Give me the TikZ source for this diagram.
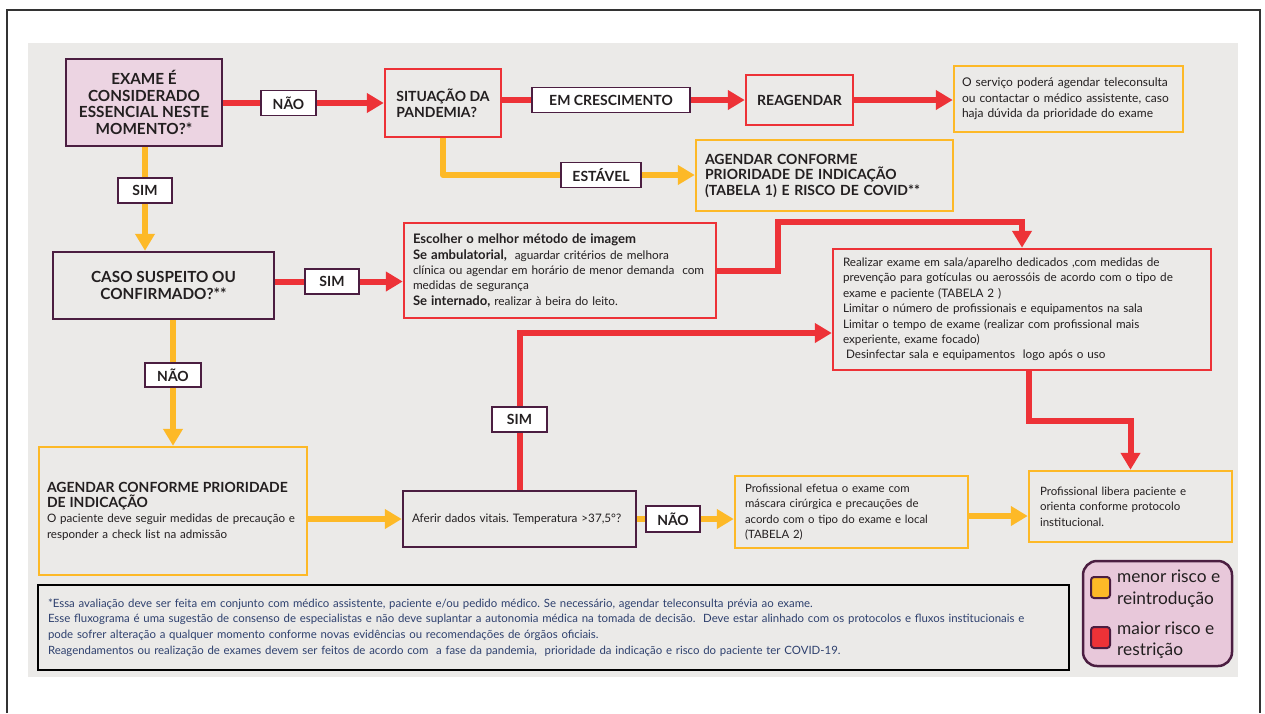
\documentclass[tikz,border=0pt]{standalone}
\usepackage{fontspec}
\setmainfont{Lato}
\usetikzlibrary{arrows.meta,calc}
\definecolor{cred}{RGB}{237,50,55}
\definecolor{cyel}{RGB}{253,185,39}
\definecolor{cpur}{RGB}{75,30,65}
\definecolor{cpink}{RGB}{236,212,226}
\definecolor{clegend}{RGB}{232,200,218}
\definecolor{cbg}{RGB}{235,234,232}
\definecolor{ctext}{RGB}{35,31,32}
\definecolor{cnote}{RGB}{46,64,110}
\newcommand{\myhf}{\fontsize{14}{16}\selectfont\bfseries}
\newcommand{\mybf}{\fontsize{15.3}{16.6}\selectfont\bfseries}
\newcommand{\mylf}{\fontsize{14}{15}\selectfont\bfseries}
\newcommand{\mynf}{\fontsize{11.4}{15.6}\selectfont}
\newcommand{\fs}[1]{\fontsize{#1}{15.4}\selectfont}
\frenchspacing
\begin{document}
\begin{tikzpicture}[x=1pt,y=-1pt,
  box/.style={draw, line width=2.5pt, inner sep=0pt, text=ctext},
  rbox/.style={box, draw=cred},
  ybox/.style={box, draw=cyel},
  pbox/.style={box, draw=cpur},
  lbl/.style={draw=cpur, fill=white, line width=1.5pt, font=\mylf, inner sep=0pt, text=ctext},
  rline/.style={draw=cred, line width=6pt},
  yline/.style={draw=cyel, line width=6pt},
  rarr/.style={rline, -{Triangle[width=19pt,length=17pt]}},
  yarr/.style={yline, -{Triangle[width=19pt,length=17pt]}},
  txt/.style={align=left}
]
\useasboundingbox (0,0) rectangle (1265,713);
\fill[white] (0,0) rectangle (1265,713);
\draw[line width=1.3pt, draw=black!80] (7,713) -- (7,10) -- (1260,10) -- (1260,713);
\fill[cbg] (28,43) rectangle (1238,677);

% nodes
\node[pbox, fill=cpink, minimum width=156, minimum height=87, font=\mybf, align=center] (exame) at (144,102.5)
  {EXAME É\\CONSIDERADO\\ESSENCIAL NESTE\\MOMENTO?*};
\node[lbl, minimum width=55, minimum height=25] (nao1) at (288.5,103) {NÃO};
\node[rbox, minimum width=116, minimum height=68, font=\myhf, align=left] (situacao) at (443,103)
  {SITUAÇÃO DA\\PANDEMIA?};
\node[lbl, minimum width=158, minimum height=25] (emc) at (611,100) {EM CRESCIMENTO};
\node[rbox, minimum width=107, minimum height=50, font=\myhf] (reagendar) at (799.5,100) {REAGENDAR};
\node[ybox, minimum width=229, minimum height=66, txt, font=\fs{12}, text width=213, inner xsep=8] (tele) at (1068.5,99)
  {O serviço poderá agendar teleconsulta\\ou contactar o médico assistente, caso\\haja dúvida da prioridade do exame};
\node[ybox, minimum width=257, minimum height=71, font=\fontsize{14}{15.5}\selectfont\bfseries, align=left, text width=239, inner xsep=9] (agendar1) at (824.5,175.5)
  {AGENDAR CONFORME\\PRIORIDADE DE INDICAÇÃO\\(TABELA 1) E RISCO DE COVID**};
\node[lbl, minimum width=80, minimum height=25] (estavel) at (601,175) {ESTÁVEL};
\node[lbl, minimum width=54, minimum height=25] (sim1) at (145,190.5) {SIM};
\node[pbox, minimum width=221, minimum height=67, font=\mybf, align=center] (caso) at (163.5,285.5)
  {CASO SUSPEITO OU\\CONFIRMADO?**};
\node[lbl, minimum width=54, minimum height=25] (sim2) at (332,281.5) {SIM};
\node[rbox, minimum width=312, minimum height=95, txt, font=\fs{11.8}, text width=298, inner xsep=7] (escolher) at (560,270.5)
  {\hspace*{2pt}{\bfseries\fontsize{13.1}{15.4}\selectfont Escolher o melhor método de imagem}\\
   \hspace*{2pt}{\bfseries\fontsize{13.1}{15.4}\selectfont Se ambulatorial,}\ \ aguardar critérios de melhora\\
   \hspace*{2pt}clínica ou agendar em horário de menor demanda\ \ com\\
   \hspace*{2pt}medidas de segurança\\
   \hspace*{2pt}{\bfseries\fontsize{13.1}{15.4}\selectfont Se internado,} realizar à beira do leito.};
\node[rbox, minimum width=378, minimum height=121, txt, font=\fs{11.7}, text width=360, inner xsep=9] (realizar) at (1022,309.5)
  {\hspace*{1pt}Realizar exame em sala/aparelho dedicados ,com medidas de\\
   \hspace*{1pt}prevenção para gotículas ou aerossóis de acordo com o tipo de\\
   \hspace*{1pt}exame e paciente (TABELA 2 )\\
   \hspace*{1pt}Limitar o número de profissionais e equipamentos na sala\\
   \hspace*{1pt}Limitar o tempo de exame (realizar com profissional mais\\
   \hspace*{1pt}experiente, exame focado)\\
   \hspace*{4pt}Desinfectar sala e equipamentos\ \ logo após o uso};
\node[lbl, minimum width=56, minimum height=24] (nao2) at (173,375) {NÃO};
\node[ybox, minimum width=268, minimum height=128, txt, font=\fs{11.6}, text width=252, inner xsep=8] (agendar2) at (173,511)
  {{\fontsize{14}{15.4}\selectfont\bfseries AGENDAR CONFORME PRIORIDADE\\DE INDICAÇÃO}\\
   O paciente deve seguir medidas de precaução e\\
   responder a check list na admissão};
\node[pbox, minimum width=233, minimum height=56, txt, font=\fs{11.7}, text width=215, inner xsep=9] (aferir) at (519.5,519)
  {Aferir dados vitais. Temperatura >37,5°?};
\node[lbl, minimum width=55, minimum height=25] (sim3) at (519.5,419.5) {SIM};
\node[lbl, minimum width=54, minimum height=26] (nao3) at (673,519) {NÃO};
\node[ybox, minimum width=233, minimum height=72, txt, font=\fs{11.4}, text width=213, inner xsep=10] (efetua) at (851.5,512)
  {Profissional efetua o exame com\\
   máscara cirúrgica e precauções de\\
   acordo com o tipo do exame e local\\
   (TABELA 2)};
\node[ybox, minimum width=203, minimum height=71, txt, font=\fs{11.5}, text width=181, inner xsep=11] (libera) at (1130.5,506.5)
  {Profissional libera paciente e\\
   orienta conforme protocolo\\
   institucional.};
\node[draw=black, line width=2.4pt, minimum width=1031, minimum height=85, inner sep=0pt, inner xsep=10, text width=1011, align=left, font=\mynf, text=cnote] (nota) at (553.5,627.5)
  {*Essa avaliação deve ser feita em conjunto com médico assistente, paciente e/ou pedido médico. Se necessário, agendar teleconsulta prévia ao exame.\\
   Esse fluxograma é uma sugestão de consenso de especialistas e não deve suplantar a autonomia médica na tomada de decisão.\ \ Deve estar alinhado com os protocolos e fluxos institucionais e\\
   pode sofrer alteração a qualquer momento conforme novas evidências ou recomendações de órgãos oficiais.\\
   Reagendamentos ou realização de exames devem ser feitos de acordo com\ \ a fase da pandemia,\ \ prioridade da indicação e risco do paciente ter COVID-19.};
\node[draw=cpur, fill=clegend, line width=2.5pt, rounded corners=14pt, minimum width=149, minimum height=105, inner sep=0pt] (legenda) at (1157.5,613.5) {};
\node[draw=cpur, fill=cyel, line width=2pt, rounded corners=3pt, minimum width=19, minimum height=21, inner sep=0pt] (sqy) at (1100.5,587.5) {};
\node[draw=cpur, fill=cred, line width=2pt, rounded corners=3pt, minimum width=19, minimum height=21, inner sep=0pt] (sqr) at (1100.5,637.5) {};
\node[anchor=west, inner sep=0pt, align=left, font=\fontsize{17.3}{21.5}\selectfont, text=ctext] (legy) at (1117,588.5) {menor risco e\\reintrodução};
\node[anchor=west, inner sep=0pt, align=left, font=\fontsize{17.3}{21.5}\selectfont, text=ctext] (legr) at (1117,640) {maior risco e\\restrição};

% connectors
\draw[rline] (nao1.west -| exame.east) -- (nao1.west);
\draw[rarr] (nao1.east) -- (nao1.east -| situacao.west);
\draw[rline] (emc.west -| situacao.east) -- (emc.west);
\draw[rarr] (emc.east) -- (emc.east -| reagendar.west);
\draw[rarr] (reagendar.east) -- (reagendar.east -| tele.west);
\draw[yline, line join=round] (situacao.south) |- (estavel.west);
\draw[yarr] (estavel.east) -- (estavel.east -| agendar1.west);
\draw[yline] (sim1.north) -- (sim1.north |- exame.south);
\draw[yarr] (sim1.south) -- (sim1.south |- caso.north);
\draw[rline] (sim2.west -| caso.east) -- (sim2.west);
\draw[rarr] (sim2.east) -- (sim2.east -| escolher.west);
\draw[rarr] (escolher.east) -- ++(61,0) |- ($(realizar.north)+(0,-26)$) -- (realizar.north);
\draw[rarr] ($(realizar.south)+(7,0)$) -- ++(0,50) -| (libera.north);
\draw[yline] (nao2.north) -- (nao2.north |- caso.south);
\draw[yarr] (nao2.south) -- (nao2.south |- agendar2.north);
\draw[yarr] (aferir.west -| agendar2.east) -- (aferir.west);
\draw[rline] (sim3.south) -- (sim3.south |- aferir.north);
\draw[rarr] (sim3.north) |- ($(realizar.west)+(0,23.5)$);
\draw[yline] (aferir.east) -- (nao3.west);
\draw[yarr] (nao3.east) -- (nao3.east -| efetua.west);
\coordinate (efout) at ($(efetua.east)+(0,4)$);
\draw[yarr] (efout) -- (efout -| libera.west);
\end{tikzpicture}
\end{document}
